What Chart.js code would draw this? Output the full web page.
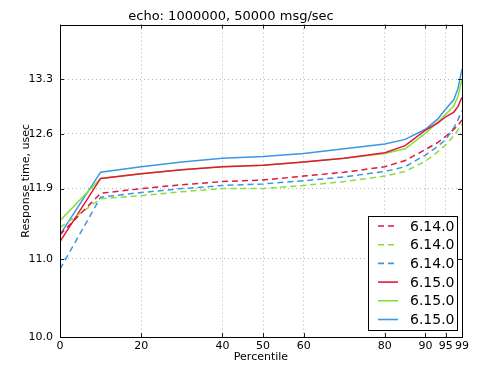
<!DOCTYPE html>
<html>
<head>
<meta charset="utf-8">
<script src="https://cdn.jsdelivr.net/npm/chart.js@4/dist/chart.umd.min.js"></script>
<style>
  html, body { margin: 0; padding: 0; background: #fff; }
  #wrap { width: 500px; height: 375px; }
</style>
</head>
<body>
<div id="wrap"><canvas id="grafico" width="500" height="375"></canvas></div>
<script>
// Percentis medidos (eixo x)
const percentis = [0, 10, 20, 30, 40, 50, 60, 70, 80, 85, 90, 93, 95, 97, 98, 99];

// Tempos de resposta (usec) por serie
const v614a = [11.31, 11.84, 11.90, 11.95, 11.99, 12.01, 12.06, 12.11, 12.18, 12.26, 12.40, 12.49, 12.57, 12.66, 12.71, 12.78];
const v614b = [11.40, 11.77, 11.81, 11.86, 11.90, 11.90, 11.94, 11.99, 12.06, 12.12, 12.25, 12.37, 12.46, 12.58, 12.65, 12.73];
const v614c = [10.87, 11.79, 11.85, 11.90, 11.94, 11.96, 12.00, 12.05, 12.12, 12.18, 12.33, 12.44, 12.53, 12.68, 12.78, 12.90];
const v615a = [11.22, 12.03, 12.09, 12.14, 12.18, 12.20, 12.24, 12.29, 12.36, 12.45, 12.65, 12.74, 12.82, 12.88, 12.95, 13.07];
const v615b = [11.49, 12.03, 12.09, 12.14, 12.18, 12.20, 12.24, 12.29, 12.35, 12.41, 12.61, 12.75, 12.85, 12.96, 13.08, 13.30];
const v615c = [11.31, 12.11, 12.18, 12.24, 12.29, 12.31, 12.35, 12.41, 12.47, 12.53, 12.66, 12.79, 12.92, 13.04, 13.18, 13.43];

const rotulos = ["6.14.0", "6.14.0", "6.14.0", "6.15.0", "6.15.0", "6.15.0"];
const series = [v614a, v614b, v614c, v615a, v615b, v615c];

// Ticks usados nos eixos
const ticksX = [0, 20, 40, 50, 60, 80, 90, 95, 99];
const ticksY = [10.0, 11.0, 11.9, 12.6, 13.3];

const cores = ['#e3173a', '#86e03c', '#3a97e6', '#e3173a', '#86e03c', '#3a97e6'];
const FONTE = "'DejaVu Sans', sans-serif";

const datasets = series.map((vals, i) => ({
  label: rotulos[i],
  data: vals.map((y, j) => ({ x: percentis[j], y: y })),
  borderColor: cores[i],
  backgroundColor: cores[i],
  borderWidth: 1.5,
  borderDash: i < 3 ? [6, 4] : [],
  pointRadius: 0,
  tension: 0,
  fill: false
}));

// Moldura do grafico com marcas internas
const moldura = {
  id: 'moldura',
  afterDatasetsDraw(chart) {
    const { ctx, chartArea: a, scales } = chart;
    ctx.save();
    ctx.strokeStyle = '#222';
    ctx.lineWidth = 1;
    ctx.beginPath();
    ticksX.forEach(t => {
      const px = Math.round(scales.x.getPixelForValue(t)) + 0.5;
      ctx.moveTo(px, a.bottom); ctx.lineTo(px, a.bottom - 4);
      ctx.moveTo(px, a.top); ctx.lineTo(px, a.top + 4);
    });
    ticksY.forEach(t => {
      const py = Math.round(scales.y.getPixelForValue(t)) + 0.5;
      ctx.moveTo(a.left, py); ctx.lineTo(a.left + 4, py);
      ctx.moveTo(a.right, py); ctx.lineTo(a.right - 4, py);
    });
    ctx.stroke();
    ctx.strokeStyle = '#000';
    ctx.strokeRect(Math.round(a.left) + 0.5, Math.round(a.top) + 0.5,
      Math.round(a.right - a.left), Math.round(a.bottom - a.top));
    ctx.restore();
  }
};

// Legenda dentro da area do grafico
const legenda = {
  id: 'legenda',
  afterDraw(chart) {
    const { ctx } = chart;
    const x0 = 368.5, y0 = 216.5, w = 89, h = 114;
    ctx.save();
    ctx.fillStyle = '#fff';
    ctx.fillRect(x0, y0, w, h);
    ctx.strokeStyle = '#000';
    ctx.lineWidth = 1;
    ctx.strokeRect(x0, y0, w, h);
    chart.data.datasets.forEach((ds, i) => {
      const y = 226 + i * 18.7;
      ctx.beginPath();
      ctx.strokeStyle = ds.borderColor;
      ctx.lineWidth = 1.6;
      ctx.setLineDash(ds.borderDash);
      ctx.moveTo(378, y);
      ctx.lineTo(398, y);
      ctx.stroke();
      ctx.setLineDash([]);
      ctx.fillStyle = '#000';
      ctx.font = '14px ' + FONTE;
      ctx.textAlign = 'left';
      ctx.textBaseline = 'middle';
      ctx.fillText(ds.label, 410, y + 1);
    });
    ctx.restore();
  }
};

new Chart(document.getElementById('grafico').getContext('2d'), {
  type: 'line',
  data: { datasets: datasets },
  plugins: [moldura, legenda],
  options: {
    responsive: false,
    animation: false,
    layout: { padding: { left: 0, right: 38, top: 0, bottom: 0 } },
    plugins: {
      legend: { display: false },
      tooltip: { enabled: false },
      title: {
        display: true,
        text: 'echo: 1000000, 50000 msg/sec',
        color: '#000',
        font: { family: FONTE, size: 13, weight: 'normal' },
        padding: { top: 9, bottom: 0 }
      }
    },
    scales: {
      x: {
        type: 'linear',
        min: 0,
        max: 99,
        afterBuildTicks: s => { s.ticks = ticksX.map(v => ({ value: v })); },
        afterFit: s => { s.height = 38; },
        ticks: {
          color: '#000',
          font: { family: FONTE, size: 11 },
          padding: 3,
          maxRotation: 0,
          autoSkip: false,
          callback: v => String(v)
        },
        grid: { color: '#b4b4b4', drawTicks: false },
        border: { display: false, dash: [1, 3] },
        title: {
          display: true,
          text: 'Percentile',
          color: '#000',
          font: { family: FONTE, size: 11 },
          padding: { top: 0, bottom: 11 }
        }
      },
      y: {
        type: 'linear',
        min: 10,
        max: 14,
        afterBuildTicks: s => { s.ticks = ticksY.map(v => ({ value: v })); },
        afterFit: s => { s.width = 60; },
        ticks: {
          color: '#000',
          font: { family: FONTE, size: 11 },
          padding: 7,
          autoSkip: false,
          callback: v => Number(v).toFixed(1)
        },
        grid: { color: '#b4b4b4', drawTicks: false },
        border: { display: false, dash: [1, 3] },
        title: {
          display: true,
          text: 'Response time, usec',
          color: '#000',
          font: { family: FONTE, size: 11 },
          padding: { top: 20, bottom: 0 }
        }
      }
    }
  }
});
</script>
</body>
</html>
